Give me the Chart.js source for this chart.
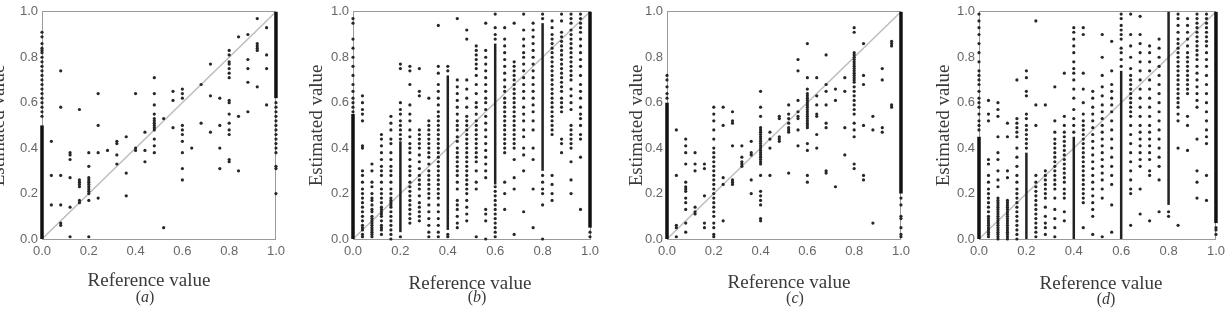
<!DOCTYPE html>
<html>
<head>
<meta charset="utf-8">
<script src="https://cdn.jsdelivr.net/npm/chart.js@4"></script>
<style>
  body { margin: 0; width: 1227px; height: 323px; overflow: hidden; background: #fff; position: relative; }
  canvas { position: absolute; top: 0; }
  .cap { position: absolute; font-family: "Liberation Serif", "DejaVu Serif", serif; color: #3a3a3a;
         white-space: nowrap; line-height: 1; transform: translate(-50%, -50%); }
  .xt { font-size: 19px; }
  .sub { font-size: 16px; }
</style>
</head>
<body>
<script>
// x positions of the reference-value columns (shared by all four panels)
const refCols = [0, 0.04, 0.08, 0.12, 0.16, 0.2, 0.24, 0.28, 0.32, 0.36, 0.4, 0.44, 0.48,
  0.52, 0.56, 0.6, 0.64, 0.68, 0.72, 0.76, 0.8, 0.84, 0.88, 0.92, 0.96, 1];
const tickVals = [0, 0.2, 0.4, 0.6, 0.8, 1.0];

// estimated values per column, in percent
const aVals = [
  [91, 89, 86, 84, 83, 82, 80, 78, 76, 74, 72, 70, 68, 66, 64, 62, 60, 58, 56, 54],
  [43, 28, 15],
  [74, 58, 28, 15, 7, 6],
  [38, 37, 35, 27, 14, 1],
  [57, 26, 25, 24, 23, 17, 16],
  [38, 32, 27, 26, 25, 24, 23, 22, 21, 20, 17, 1],
  [64, 50, 38, 18],
  [39],
  [43, 42, 37, 33],
  [45, 29, 19],
  [64, 40, 39],
  [47, 39, 34],
  [71, 64, 59, 55, 53, 52, 51, 50, 49, 48, 44, 41, 38],
  [53, 5],
  [65, 61, 49],
  [66, 64, 62, 50, 48, 46, 43, 38, 31, 26],
  [40],
  [68, 51],
  [77, 63, 47],
  [62, 50, 40, 31],
  [83, 81, 78, 77, 75, 73, 71, 61, 60, 55, 51, 48, 46, 35, 34],
  [89, 54, 30],
  [90, 79, 75, 69, 56],
  [97, 86, 85, 84, 83, 67],
  [93, 81, 75, 59],
  [60, 58, 56, 54, 52, 50, 48, 46, 44, 42, 40, 38, 32, 31, 20]
];
const aBandX = [0, 1];
const aBandLo = [0, 0.62];
const aBandHi = [0.5, 1];

const bVals = [
  [97, 95, 88, 84, 80, 76, 72, 68, 65, 62, 60, 58, 56],
  [63, 60, 57, 55, 52, 41, 40, 30, 28, 25, 22, 20, 18, 16, 14, 12, 10, 8, 6, 5, 4, 2, 1],
  [33, 30, 25, 23, 20, 18, 17, 15, 13, 12, 10, 9, 8, 7, 6, 5, 4, 3, 2, 1],
  [46, 44, 41, 38, 35, 32, 30, 28, 25, 22, 20, 18, 16, 14, 13, 12, 11, 10, 8, 6, 5, 4, 2],
  [54, 51, 48, 44, 42, 38, 35, 32, 30, 28, 25, 22, 20, 18, 17, 16, 15, 14, 12, 10, 8, 6, 4, 2, 0],
  [77, 75, 60, 57, 55, 52, 50, 48, 46, 44, 1],
  [76, 74, 68, 59, 55, 52, 48, 45, 42, 40, 38, 35, 32, 30, 28, 25, 23, 21, 19, 17, 15, 13, 11, 9, 7],
  [75, 65, 63, 48, 46, 44, 42, 40, 37, 34, 31, 28, 26, 24, 22, 19, 16, 14, 12, 10, 8],
  [62, 52, 50, 48, 46, 44, 42, 40, 38, 36, 33, 30, 28, 26, 24, 22, 20, 18, 15, 12, 9, 6, 3, 1],
  [94, 76, 73, 68, 65, 62, 59, 56, 54, 52, 50, 48, 46, 44, 42, 40, 38, 36, 34, 32, 30, 28, 26, 24, 22, 20, 18, 15, 12, 9, 6, 3, 1],
  [76, 74, 2, 1],
  [97, 70, 67, 64, 61, 58, 55, 52, 50, 48, 45, 43, 40, 38, 36, 34, 32, 30, 28, 25, 22, 17, 15, 13, 10, 7, 5],
  [92, 88, 70, 66, 62, 58, 54, 52, 50, 48, 46, 44, 42, 40, 38, 36, 34, 32, 30, 28, 26, 24, 22, 20, 17, 14, 11, 8],
  [85, 83, 81, 79, 77, 75, 72, 68, 64, 60, 58, 55, 52, 50, 48, 46, 44, 42, 40, 38, 36, 34, 30, 25, 22, 1],
  [95, 83, 80, 77, 74, 71, 68, 65, 62, 60, 57, 54, 51, 48, 45, 42, 39, 36, 33, 30, 27, 13, 11, 8, 0],
  [99, 93, 90, 88, 23, 21, 19, 17, 15, 13, 11, 9, 7, 5, 3, 1],
  [93, 88, 85, 82, 79, 76, 73, 70, 67, 65, 62, 60, 58, 56, 54, 52, 50, 48, 46, 44, 42, 40, 38, 25, 20, 13],
  [95, 78, 76, 74, 72, 70, 68, 66, 64, 62, 60, 58, 56, 54, 52, 50, 48, 46, 44, 42, 40, 35, 27, 22, 2],
  [99, 92, 88, 85, 82, 80, 77, 74, 71, 68, 65, 62, 58, 55, 52, 48, 45, 40, 37, 30, 12],
  [95, 92, 89, 86, 83, 80, 77, 74, 71, 68, 65, 62, 59, 56, 52, 48, 40, 35, 22, 5],
  [99, 97, 28, 25, 22, 20, 15, 0],
  [96, 93, 90, 88, 86, 84, 82, 80, 78, 76, 74, 72, 70, 68, 66, 64, 62, 60, 58, 56, 54, 52, 50, 48, 46, 28, 24, 20, 17],
  [99, 96, 91, 89, 87, 85, 83, 81, 79, 77, 75, 73, 71, 69, 67, 65, 62, 60, 58, 56, 44, 42, 38],
  [99, 97, 95, 92, 90, 88, 86, 84, 82, 80, 78, 76, 74, 72, 70, 66, 63, 60, 57, 50, 48, 46, 44, 42, 40, 34, 26, 20],
  [99, 97, 95, 93, 91, 88, 85, 82, 79, 76, 72, 68, 65, 62, 58, 55, 53, 50, 46, 44, 36, 13],
  [3, 1]
];
const bBandX = [0, 0.2, 0.4, 0.6, 0.8, 1];
const bBandLo = [0, 0.03, 0.04, 0.24, 0.3, 0.05];
const bBandHi = [0.55, 0.43, 0.72, 0.86, 0.95, 1];

const cVals = [
  [72, 70, 67, 64, 62],
  [48, 28, 6, 5, 1],
  [44, 41, 38, 33, 25, 23, 22, 21, 18, 16, 13, 7, 3],
  [38, 33, 30, 14, 12, 11],
  [33, 31, 19, 7, 5],
  [58, 55, 52, 48, 44, 40, 38, 36, 34, 32, 30, 28, 26, 24, 22, 20, 18, 16, 14, 12, 10, 7, 5, 2, 1],
  [58, 50, 27, 24, 8],
  [56, 52, 51, 41, 26, 25, 24],
  [41, 36, 34, 33, 32],
  [43, 38, 37, 26, 20],
  [65, 58, 54, 49, 48, 47, 46, 45, 44, 43, 42, 41, 40, 39, 38, 37, 36, 35, 34, 33, 28, 21, 19, 17, 15, 9, 8],
  [47, 44, 40, 28],
  [54, 53, 45, 44, 43],
  [59, 55, 53, 51, 49, 48, 47, 29],
  [79, 74, 61, 56, 54, 53, 48, 41],
  [86, 71, 66, 64, 63, 62, 61, 60, 59, 58, 57, 56, 55, 54, 53, 52, 51, 50, 49, 42, 39, 28, 25],
  [71, 63, 59, 55, 54, 46, 40],
  [81, 68, 65, 59, 51, 49, 30, 29],
  [66, 61, 23],
  [71, 65, 49, 37],
  [93, 91, 82, 81, 80, 79, 78, 77, 76, 75, 74, 73, 72, 71, 70, 69, 67, 65, 63, 61, 59, 57, 55, 51, 48, 45, 33, 31],
  [86, 72, 68, 50, 28, 26],
  [54, 48, 7],
  [75, 70, 49, 47],
  [87, 86, 85, 59, 58],
  [18, 15, 10, 9, 5, 2, 1]
];
const cBandX = [0, 1];
const cBandLo = [0, 0.2];
const cBandHi = [0.6, 1];

const dVals = [
  [99, 96, 93, 90, 86, 82, 78, 74, 72, 70, 68, 65, 62, 60, 58, 55, 52, 50, 48],
  [61, 55, 52, 35, 33, 28, 25, 22, 20, 18, 16, 14, 12, 10, 9, 8, 7, 6, 5, 4, 3, 2, 1],
  [60, 57, 54, 45, 38, 35, 30, 26, 23, 18, 17, 16, 15, 14, 13, 12, 11, 10, 9, 8, 7, 6, 5, 4, 3, 2, 1, 0],
  [51, 45, 30, 27, 17, 16, 15, 14, 13, 12, 11, 10, 9, 8, 7, 6, 5, 4, 3, 2, 1, 0],
  [70, 53, 51, 49, 47, 45, 40, 36, 32, 28, 25, 22, 20, 18, 16, 14, 12, 10, 8, 6, 4, 2, 0],
  [74, 71, 65, 63, 55, 53, 50, 48, 46, 44, 42, 40],
  [96, 59, 50, 28, 25, 23, 21, 19, 17, 15, 13, 11, 9, 7, 5, 3, 1],
  [59, 30, 28, 26, 24, 22, 20, 18, 14, 10, 7, 5, 2],
  [67, 52, 47, 44, 42, 40, 38, 36, 34, 32, 30, 28, 26, 24, 22, 18, 13, 9, 5, 1],
  [73, 54, 50, 47, 45, 43, 41, 39, 37, 35, 33, 31, 29, 27, 25, 22, 20, 18, 12, 8],
  [93, 91, 88, 85, 82, 78, 75, 73, 70, 66, 62, 57, 53, 50, 47],
  [93, 90, 73, 66, 60, 55, 52, 50, 48, 46, 44, 42, 40, 38, 36, 34, 32, 30, 28, 26, 24, 22, 20, 18, 16, 5],
  [65, 62, 58, 55, 52, 49, 46, 43, 40, 37, 34, 31, 28, 25, 22, 19, 16, 13, 10, 2],
  [90, 80, 72, 67, 63, 59, 56, 53, 50, 47, 44, 41, 38, 35, 32, 29, 26, 22, 18, 1],
  [87, 74, 68, 65, 62, 59, 56, 52, 48, 44, 40, 36, 32, 28, 24, 15, 3],
  [99, 97, 94, 92, 90, 88, 84, 82, 79, 76],
  [99, 90, 85, 80, 75, 72, 70, 68, 66, 64, 62, 60, 58, 56, 54, 50, 46, 42, 38, 34, 30, 26, 22, 20, 6],
  [98, 90, 86, 82, 78, 74, 70, 66, 62, 58, 54, 50, 47, 44, 41, 38, 35, 32, 22, 11],
  [85, 82, 78, 74, 70, 66, 62, 58, 54, 50, 47, 44, 41, 38, 35, 30, 28, 8],
  [88, 84, 80, 76, 72, 68, 64, 60, 56, 52, 48, 44, 40, 36, 32, 26, 12],
  [12, 10],
  [99, 97, 94, 91, 88, 86, 84, 82, 80, 78, 76, 74, 72, 70, 68, 66, 64, 62, 60, 58, 55, 52, 40, 6],
  [97, 94, 91, 88, 85, 82, 80, 78, 76, 74, 72, 70, 68, 66, 64, 54, 50, 39],
  [99, 97, 95, 93, 91, 89, 87, 85, 83, 81, 79, 76, 73, 70, 67, 64, 61, 58, 44, 30, 25, 18],
  [99, 97, 95, 93, 91, 89, 87, 85, 82, 79, 76, 72, 68, 64, 60, 56, 52, 48, 45, 42, 28, 17],
  [5, 4, 2]
];
const dBandX = [0, 0.2, 0.4, 0.6, 0.8, 1];
const dBandLo = [0, 0, 0, 0, 0.15, 0.07];
const dBandHi = [0.45, 0.38, 0.45, 0.74, 1, 1];

const serif = '"Liberation Serif", "DejaVu Serif", serif';
const sans = '"Liberation Sans", Arial, sans-serif';
const axisGray = "#9a9a9a";

// canvas placement: left, width, y-axis width, y-title offset; caption centres
const panels = [
  { tag: "a", vals: aVals, bx: aBandX, lo: aBandLo, hi: aBandHi, left: -25, width: 315, yw: 67, tp: 15, capX: 149, capY: 279, subX: 145, subY: 297 },
  { tag: "b", vals: bVals, bx: bBandX, lo: bBandLo, hi: bBandHi, left: 300, width: 305, yw: 53, tp: 8, capX: 470, capY: 282, subX: 477, subY: 297 },
  { tag: "c", vals: cVals, bx: cBandX, lo: cBandLo, hi: cBandHi, left: 615, width: 300, yw: 52, tp: 13, capX: 789, capY: 281, subX: 795, subY: 298 },
  { tag: "d", vals: dVals, bx: dBandX, lo: dBandLo, hi: dBandHi, left: 925, width: 305, yw: 54, tp: 10, capX: 1101, capY: 282, subX: 1106, subY: 299 }
];

function addCaption(cls, html, x, y) {
  const div = document.createElement("div");
  div.className = "cap " + cls;
  div.innerHTML = html;
  div.style.left = x + "px";
  div.style.top = y + "px";
  document.body.appendChild(div);
}

function makePanel(p) {
  const canvas = document.createElement("canvas");
  canvas.width = p.width;
  canvas.height = 323;
  canvas.style.left = p.left + "px";
  document.body.appendChild(canvas);

  const dots = [];
  p.vals.forEach((col, i) => {
    col.forEach((v) => dots.push({ x: refCols[i], y: v / 100 }));
  });

  const datasets = [
    {
      data: [{ x: 0, y: 0 }, { x: 1, y: 1 }],
      showLine: true,
      borderColor: "#bdbdbd",
      borderWidth: 1.5,
      pointRadius: 0,
      order: 3,
    },
  ];
  p.bx.forEach((x, i) => {
    // saturated columns: the edge ones are heavier than the inner ones
    const edge = x === 0 || x === 1;
    datasets.push({
      data: [{ x: x, y: p.lo[i] }, { x: x, y: p.hi[i] }],
      showLine: true,
      borderColor: edge ? "#111" : "#222",
      borderWidth: edge ? 3.5 : 2.5,
      pointRadius: 0,
      clip: false,
      order: 1,
    });
  });
  datasets.push({
    data: dots,
    pointRadius: 1.6,
    pointBackgroundColor: "#262626",
    pointBorderWidth: 0,
    clip: false,
    order: 0,
  });

  const tickFont = { family: sans, size: 13 };
  const fmt = (v) => v.toFixed(1);

  new Chart(canvas, {
    type: "scatter",
    data: { datasets: datasets },
    options: {
      responsive: false,
      animation: false,
      events: [],
      layout: { padding: { left: 0, top: 11, right: p.width - (279 - 42) - p.yw, bottom: 54 } },
      plugins: { legend: { display: false }, tooltip: { enabled: false } },
      scales: {
        x: {
          type: "linear", min: 0, max: 1,
          afterBuildTicks: (s) => { s.ticks = tickVals.map((v) => ({ value: v })); },
          ticks: { callback: fmt, font: tickFont, color: "#666", padding: 5, maxRotation: 0, autoSkip: false },
          grid: { display: false, drawTicks: false },
          border: { color: axisGray, width: 1 },
          afterFit: (s) => { s.height = 30; },
        },
        y: {
          type: "linear", min: 0, max: 1,
          afterBuildTicks: (s) => { s.ticks = tickVals.map((v) => ({ value: v })); },
          ticks: { callback: fmt, font: tickFont, color: "#666", padding: 4 },
          grid: { display: false, drawTicks: false },
          border: { color: axisGray, width: 1 },
          title: {
            display: true, text: "Estimated value", color: "#3a3a3a",
            font: { family: serif, size: 19, lineHeight: 1 },
            padding: { top: p.tp, bottom: 0 },
          },
          afterFit: (s) => { s.width = p.yw; },
        },
        x2: {
          type: "linear", position: "top", min: 0, max: 1,
          ticks: { display: false },
          grid: { display: false, drawTicks: false },
          border: { color: axisGray, width: 1 },
          afterFit: (s) => { s.height = 0; },
        },
        y2: {
          type: "linear", position: "right", min: 0, max: 1,
          ticks: { display: false },
          grid: { display: false, drawTicks: false },
          border: { color: axisGray, width: 1 },
          afterFit: (s) => { s.width = 0; },
        },
      },
    },
  });

  addCaption("xt", "Reference value", p.capX, p.capY);
  addCaption("sub", "(<i>" + p.tag + "</i>)", p.subX, p.subY);
}

panels.forEach(makePanel);
</script>
</body>
</html>
